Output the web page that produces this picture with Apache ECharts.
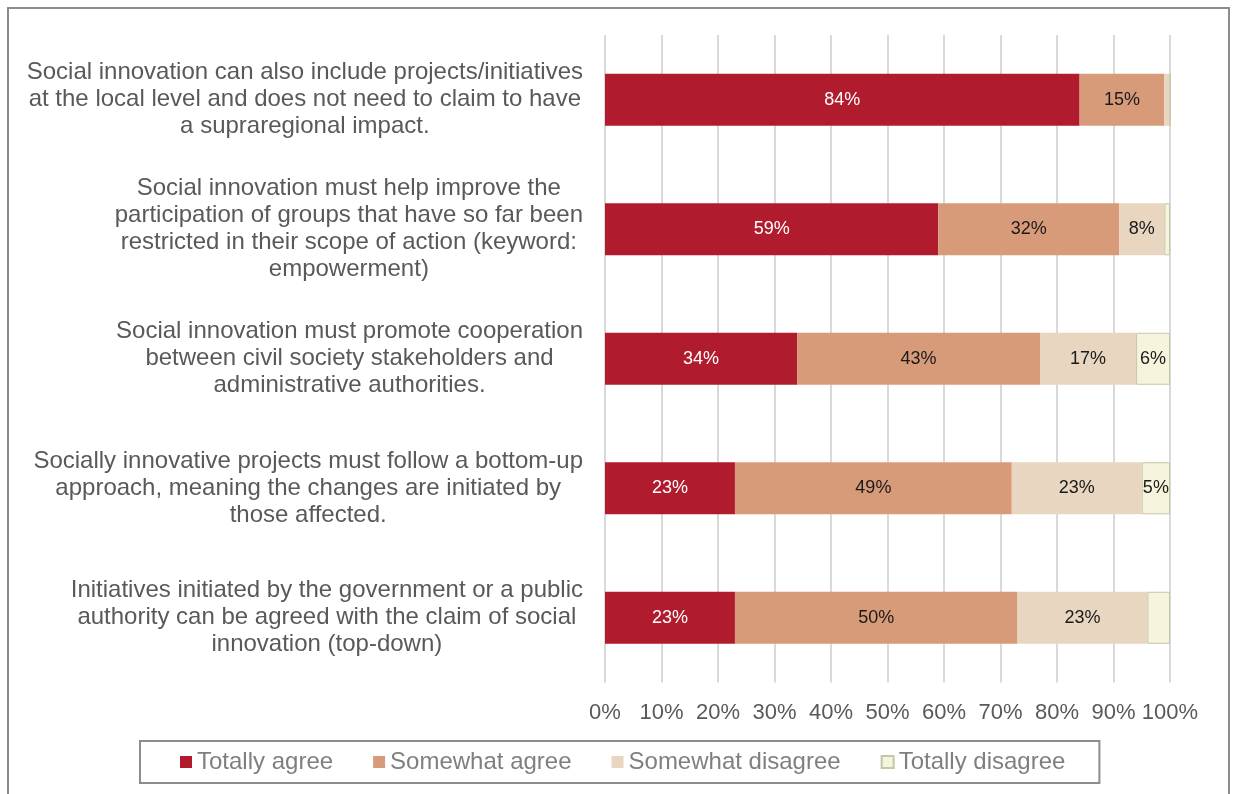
<!DOCTYPE html>
<html>
<head>
<meta charset="utf-8">
<title>Social innovation statements</title>
<script src="https://cdn.jsdelivr.net/npm/echarts@6/dist/echarts.min.js"></script>
<style>
  html, body { margin: 0; padding: 0; background: #ffffff; }
  #chart { position: absolute; left: 0; top: 0; width: 1235px; height: 794px; }
  #frame {
    position: absolute; left: 7px; top: 7px; width: 1223px; height: 820px;
    border: 2px solid #8c8c8c; box-sizing: border-box; pointer-events: none;
  }
</style>
</head>
<body>
<div id="chart"></div>
<div id="frame"></div>
<script>
// Statements (top to bottom), line breaks as laid out on the axis
const statements = [
  'Social innovation can also include projects/initiatives\nat the local level and does not need to claim to have\na supraregional impact.',
  'Social innovation must help improve the\nparticipation of groups that have so far been\nrestricted in their scope of action (keyword:\nempowerment)',
  'Social innovation must promote cooperation\nbetween civil society stakeholders and\nadministrative authorities.',
  'Socially innovative projects must follow a bottom-up\napproach, meaning the changes are initiated by\nthose affected.',
  'Initiatives initiated by the government or a public\nauthority can be agreed with the claim of social\ninnovation (top-down)'
];

// Answer shares in percent, one value per statement
const totallyAgree     = [84, 59, 34, 23, 23];
const somewhatAgree    = [15, 32, 43, 49, 50];
const somewhatDisagree = [1, 8, 17, 23, 23];
const totallyDisagree  = [0, 1, 6, 5, 4];

const answerNames = ['Totally agree', 'Somewhat agree', 'Somewhat disagree', 'Totally disagree'];
const answerColors = ['#b01c2e', '#d89b79', '#e8d6c0', '#f6f4dc'];

const FONT = '"Liberation Sans", Arial, sans-serif';

function segment(name, values, color, labelColor, border) {
  return {
    name: name,
    type: 'bar',
    stack: 'total',
    barWidth: 52,
    data: values,
    itemStyle: {
      color: color,
      borderColor: border || color,
      borderWidth: border ? 1 : 0
    },
    label: {
      show: true,
      position: 'inside',
      fontFamily: FONT,
      fontSize: 18,
      color: labelColor,
      formatter: p => (p.value >= 5 ? p.value + '%' : '')
    },
    emphasis: { disabled: true }
  };
}

const chart = echarts.init(document.getElementById('chart'), null, { renderer: 'canvas' });

chart.setOption({
  animation: false,
  textStyle: { fontFamily: FONT },
  grid: { left: 605, top: 35, width: 565, height: 647.5, containLabel: false },
  xAxis: {
    type: 'value',
    min: 0,
    max: 100,
    interval: 10,
    axisLine: { show: false },
    axisTick: { show: false },
    splitLine: { show: true, lineStyle: { color: '#d9d9d9', width: 2 } },
    axisLabel: {
      formatter: '{value}%',
      fontFamily: FONT,
      fontSize: 22,
      color: '#595959',
      margin: 19
    }
  },
  yAxis: {
    type: 'category',
    inverse: true,
    data: statements,
    axisLine: { show: false },
    axisTick: { show: false },
    axisLabel: {
      margin: 22,
      formatter: v => v.split('\n').map(line => '{c|' + line + '}').join('\n'),
      rich: {
        c: {
          align: 'center',
          fontFamily: FONT,
          fontSize: 24,
          lineHeight: 27,
          color: '#595959'
        }
      }
    }
  },
  legend: {
    left: 140,
    top: 741,
    orient: 'horizontal',
    icon: 'rect',
    itemWidth: 12,
    itemHeight: 12,
    itemGap: 40,
    padding: [9, 34, 9, 40],
    borderColor: '#8c8c8c',
    borderWidth: 2,
    textStyle: { fontFamily: FONT, fontSize: 24, color: '#7f7f7f' },
    data: answerNames
  },
  series: [
    segment(answerNames[0], totallyAgree, answerColors[0], '#ffffff'),
    segment(answerNames[1], somewhatAgree, answerColors[1], '#1a1a1a'),
    segment(answerNames[2], somewhatDisagree, answerColors[2], '#1a1a1a'),
    segment(answerNames[3], totallyDisagree, answerColors[3], '#1a1a1a', '#c6c6aa')
  ]
});
</script>
</body>
</html>
